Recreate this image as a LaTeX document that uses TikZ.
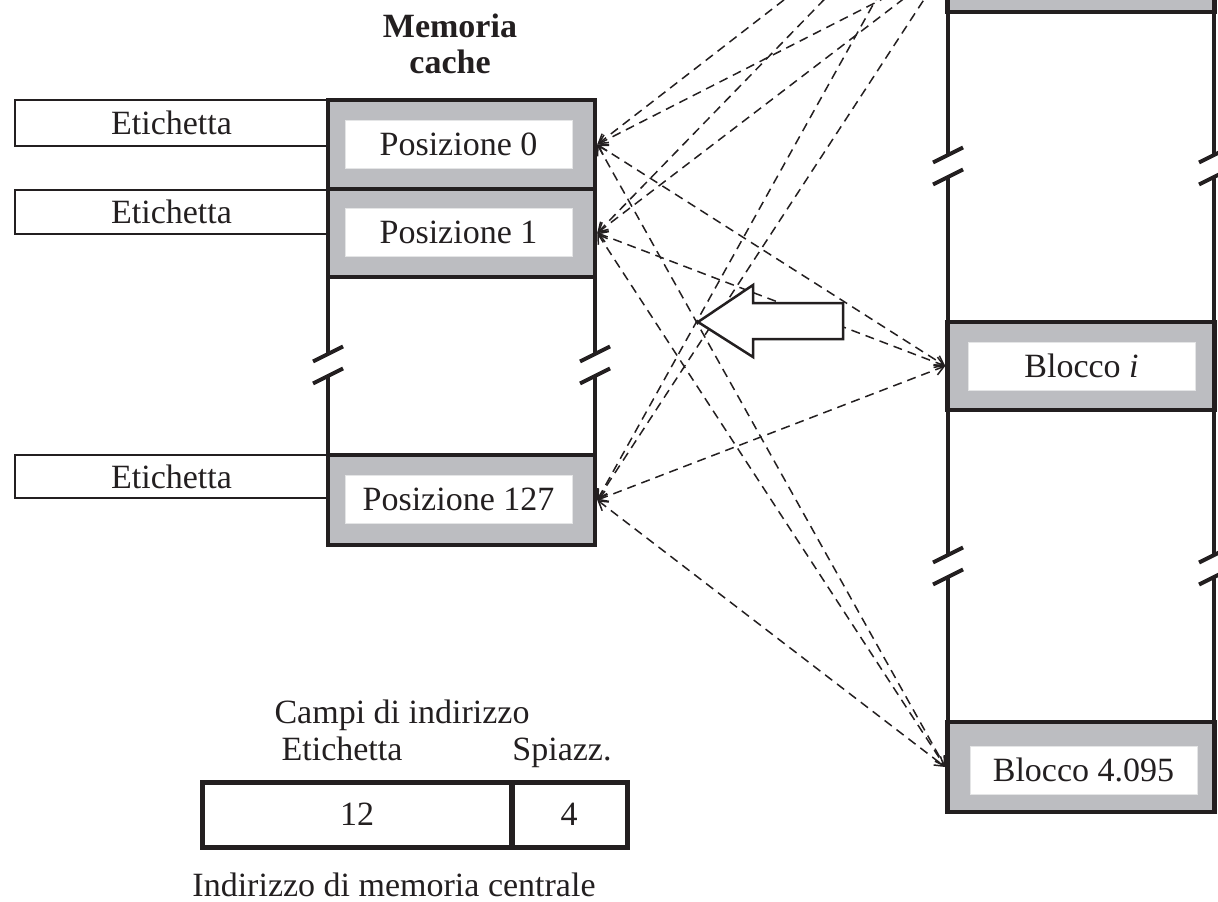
\documentclass[tikz,border=0pt]{standalone}
\usepackage{fontspec}
\setmainfont{Liberation Serif}
\usetikzlibrary{arrows.meta}
\definecolor{rowgray}{RGB}{188,189,193}
\definecolor{ink}{RGB}{35,31,32}

\begin{document}
\begin{tikzpicture}[
  x=1pt, y=-1pt,
  every node/.style={font=\fontsize{34}{36}\selectfont, text=ink},
  slot/.style={draw=ink, line width=4.5pt, fill=rowgray, minimum width=267pt, inner sep=0pt},
  cell/.style={fill=white, draw=rowgray!40, line width=0.6pt, minimum width=227pt, minimum height=48pt, inner sep=0pt},
  tagbox/.style={draw=ink, line width=2.8pt, minimum width=313pt, inner sep=0pt},
  field/.style={draw=ink, line width=5pt, minimum height=65pt, inner sep=0pt},
  link/.style={ink, line width=1.5pt, dash pattern=on 9pt off 6pt,
    {Straight Barb[length=9pt,width=11pt]}-{Straight Barb[length=9pt,width=11pt]}},
  brk/.style={ink, line width=4pt}
]
\useasboundingbox (0,0) rectangle (1218,902);
\clip (0,0) rectangle (1218,902);

% tag boxes left of the cache
\node[tagbox, minimum height=46pt] (tag0) at (171.5,123) {Etichetta};
\node[tagbox, minimum height=44pt] (tag1) at (171.5,212) {Etichetta};
\node[tagbox, minimum height=43pt] (tag127) at (171.5,476.5) {Etichetta};

% cache memory
\node[font=\bfseries\fontsize{34}{36}\selectfont, align=center] (cachettl) at (450,43.5) {Memoria\\cache};
\draw [ink, line width=4.5pt, fill=white] (328,100) rectangle (595,545);
\node[slot, minimum height=89pt] (pos0) at (461.5,144.5) {};
\node[slot, minimum height=88pt] (pos1) at (461.5,233) {};
\node[slot, minimum height=90pt] (pos127) at (461.5,500) {};
\node[cell] (cell0) at (458.5,144) {Posizione 0};
\node[cell] (cell1) at (458.5,232.5) {Posizione 1};
\node[cell] (cell127) at (458.5,499) {Posizione 127};

% main memory (top rows run off the picture)
\draw [ink, line width=4.5pt, fill=white] (948,-220) rectangle (1214,812);
\node[slot, minimum height=90pt] (blk0) at (1081,-125) {};
\node[slot, minimum height=90pt] (blk1) at (1081,-33) {};
\node[slot, minimum height=88pt] (blki) at (1081,366) {};
\node[slot, minimum height=90pt] (blkn) at (1081,767) {};
\node[cell] (celli) at (1081.5,366) {Blocco \textit{i}};
\node[cell] (celln) at (1083.5,770) {Blocco 4.095};

% break marks on the long sides
\foreach \x/\y in {328/365, 595/365, 948/166, 1214/166, 948/566, 1214/566} {
  \draw [white, line width=7pt] (\x,\y-10) -- (\x,\y+10);
  \draw [brk] (\x-15,\y-3.5) -- (\x+15,\y-18.5);
  \draw [brk] (\x-15,\y+18.5) -- (\x+15,\y+3.5);
}

% any block can go to any line
\foreach \src in {pos0,pos1,pos127} {
  \foreach \dst in {blk0,blk1,blki,blkn} {
    \draw [link] (\src.east) -- (\dst.west);
  }
}

% hollow arrow
\draw [ink, line width=2.5pt, fill=white, line join=miter]
  (698,322) -- (753,285) -- (753,303) -- (843,303) -- (843,339)
  -- (753,339) -- (753,357) -- cycle;

% address fields
\node[anchor=base] (fieldsttl) at (402,723) {Campi di indirizzo};
\node[anchor=base] (tagname) at (342,760) {Etichetta};
\node[anchor=base] (offname) at (562,760) {Spiazz.};
\node[field, minimum width=310pt] (tagfield) at (357,814.5) {12};
\node[field, minimum width=116pt] (offfield) at (569,814.5) {4};
\node[anchor=base] (addrttl) at (394,896) {Indirizzo di memoria centrale};

\end{tikzpicture}
\end{document}
